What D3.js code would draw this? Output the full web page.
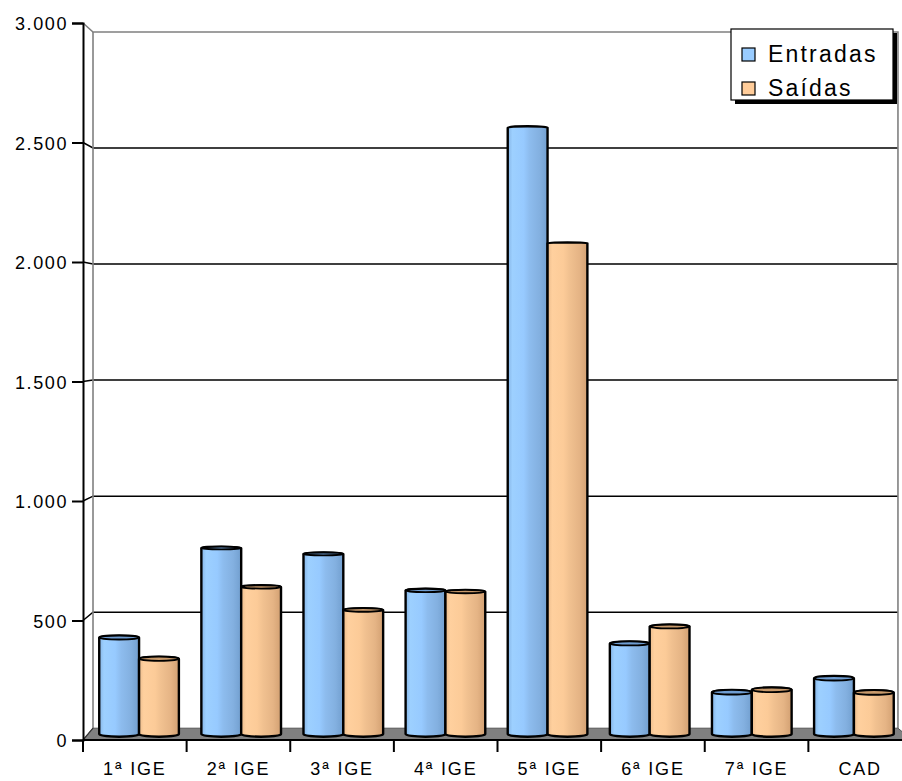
<!DOCTYPE html>
<html>
<head>
<meta charset="utf-8">
<script src="https://cdn.jsdelivr.net/npm/d3@7/dist/d3.min.js"></script>
<style>
  html, body { margin: 0; padding: 0; background: #fff; }
  svg { display: block; font-family: Arial, "Liberation Sans", sans-serif; }
</style>
</head>
<body>
<div id="chart"></div>
<script>
// ---- data ----
const categories = ["1ª IGE", "2ª IGE", "3ª IGE", "4ª IGE", "5ª IGE", "6ª IGE", "7ª IGE", "CAD"];
const seriesNames = ["Entradas", "Saídas"];
const entradas = [410, 790, 765, 610, 2575, 385, 178, 237];
const saidas   = [320, 625, 527, 605, 2085, 457, 188, 177];
const yTicks = [0, 500, 1000, 1500, 2000, 2500, 3000];

const W = 902, H = 781;
const svg = d3.select("#chart").append("svg").attr("width", W).attr("height", H);

// front-plane scales
const x = d3.scaleBand().domain(categories).range([83, 912]);
const xs = d3.scaleBand().domain(seriesNames).range([0, x.bandwidth()]).paddingOuter(0.282);
const y = d3.scaleLinear().domain([0, 3000]).range([740, 23]);

// simple perspective: points recede toward a vanishing point as depth t goes 0 -> 1
const vp = { x: 428, y: 333 }, shrink = 0.029;
function P(px, py, t) {
  const s = 1 - shrink * t;
  return [vp.x + s * (px - vp.x), vp.y + s * (py - vp.y)];
}
const x0 = x.range()[0], x1 = x.range()[1];
const yBase = y(0), yTop = y(3000);

const fmt = d3.formatLocale({ decimal: ",", thousands: ".", grouping: [3], currency: ["", ""] }).format(",d");

// ---- gradients for cylinder shading ----
const defs = svg.append("defs");
const shades = {
  "Entradas": { id: "gBlue", cap: "#6f9dd2", key: "#99ccff",
    stops: [[0, "#86b5e6"], [0.12, "#9dd0ff"], [0.4, "#97caff"], [0.55, "#8dbcee"], [0.8, "#83b0e0"], [1, "#729fcf"]] },
  "Saídas": { id: "gOrange", cap: "#c99a6b", key: "#ffcc99",
    stops: [[0, "#ecbd8d"], [0.12, "#ffd09e"], [0.4, "#fccb98"], [0.55, "#f1c190"], [0.8, "#e5b485"], [1, "#d2a072"]] }
};
Object.values(shades).forEach(s => {
  const g = defs.append("linearGradient").attr("id", s.id).attr("x1", 0).attr("x2", 1).attr("y1", 0).attr("y2", 0);
  s.stops.forEach(([o, c]) => g.append("stop").attr("offset", o).attr("stop-color", c));
});

// ---- back wall ----
const bw0 = P(x0, yTop, 1), bw1 = P(x1, yBase, 1);
svg.append("rect").attr("x", bw0[0]).attr("y", bw0[1])
  .attr("width", bw1[0] - bw0[0]).attr("height", bw1[1] - bw0[1]).attr("fill", "#fff");

// gridlines (side wall diagonal + back wall horizontal)
const grid = svg.append("g");
yTicks.filter(v => v > 0 && v < 3000).forEach(v => {
  const a = [x0, y(v)], b = P(x0, y(v), 1), c = P(x1, y(v), 1);
  grid.append("polyline").attr("points", [a, b, c].map(p => p.join(",")).join(" "))
    .attr("fill", "none").attr("stroke", "#000").attr("stroke-width", 1.5);
});

// wall borders
const wallTopL = P(x0, yTop, 1), wallTopR = P(x1, yTop, 1), wallBotL = P(x0, yBase, 1), wallBotR = P(x1, yBase, 1);
svg.append("polyline")
  .attr("points", [[x0, yTop], wallTopL, wallTopR, wallBotR].map(p => p.join(",")).join(" "))
  .attr("fill", "none").attr("stroke", "#808080").attr("stroke-width", 1.6);
svg.append("line").attr("x1", wallTopL[0]).attr("y1", wallTopL[1]).attr("x2", wallBotL[0]).attr("y2", wallBotL[1])
  .attr("stroke", "#808080").attr("stroke-width", 1.6);

// floor
svg.append("polygon")
  .attr("points", [[x0, yBase], [x1, yBase], wallBotR, wallBotL].map(p => p.join(",")).join(" "))
  .attr("fill", "#808080").attr("stroke", "#555").attr("stroke-width", 1);
svg.append("line").attr("x1", x0).attr("y1", yBase).attr("x2", wallBotL[0]).attr("y2", wallBotL[1])
  .attr("stroke", "#333").attr("stroke-width", 1.2);

// ---- bars as cylinders ----
const t0 = 0.28, t1 = 0.72, tm = 0.5;
const rows = [];
categories.forEach((c, i) => {
  rows.push({ cat: c, s: "Entradas", v: entradas[i] });
  rows.push({ cat: c, s: "Saídas", v: saidas[i] });
});

const bars = svg.append("g");
rows.forEach(d => {
  const fx0 = x(d.cat) + xs(d.s), fx1 = fx0 + xs.bandwidth();
  const L = P(fx0, y(d.v), tm)[0], R = P(fx1, y(d.v), tm)[0];
  const rx = (R - L) / 2, cx = (L + R) / 2;
  const yt = P(fx0, y(d.v), tm)[1], yb = P(fx0, yBase, tm)[1];
  const ryt = Math.abs(P(fx0, y(d.v), t0)[1] - P(fx0, y(d.v), t1)[1]) / 2;
  const ryb = Math.abs(P(fx0, yBase, t0)[1] - P(fx0, yBase, t1)[1]) / 2;
  const sh = shades[d.s];
  const path = `M${L},${yt} L${L},${yb} A${rx},${ryb} 0 0 0 ${R},${yb} L${R},${yt} A${rx},${ryt} 0 0 0 ${L},${yt} Z`;
  bars.append("path").attr("d", path).attr("fill", `url(#${sh.id})`)
    .attr("stroke", "#000").attr("stroke-width", 2.4).attr("stroke-linejoin", "round");
  if (yt > vp.y) {
    bars.append("ellipse").attr("cx", cx).attr("cy", yt).attr("rx", rx).attr("ry", ryt)
      .attr("fill", sh.cap).attr("stroke", "#000").attr("stroke-width", 1.8);
  }
});

// ---- front axes ----
const yAxis = svg.append("g").attr("transform", `translate(${x0},0)`)
  .call(d3.axisLeft(y).tickValues(yTicks).tickSize(11).tickPadding(4).tickFormat(fmt));
yAxis.select(".domain").attr("stroke", "#000").attr("stroke-width", 2);
yAxis.selectAll(".tick line").attr("stroke", "#000").attr("stroke-width", 2);
yAxis.selectAll(".tick text").attr("font-size", 18).attr("letter-spacing", "1.6px")
  .attr("fill", "#000").attr("font-family", "Arial, 'Liberation Sans', sans-serif").attr("dy", "0.38em");
svg.append("line").attr("x1", x0).attr("y1", yBase).attr("x2", x1).attr("y2", yBase)
  .attr("stroke", "#000").attr("stroke-width", 2);

const xAxis = svg.append("g").attr("transform", `translate(0,${yBase})`)
  .call(d3.axisBottom(x).tickSize(0).tickPadding(0));
xAxis.select(".domain").remove();
xAxis.selectAll(".tick text").attr("y", 35).attr("dy", 0).attr("font-size", 18).attr("letter-spacing", "1.8px")
  .attr("fill", "#000").attr("font-family", "Arial, 'Liberation Sans', sans-serif");

// category boundary ticks
const bounds = categories.map(c => x(c)).concat([x1]);
svg.append("g").selectAll("line").data(bounds).join("line")
  .attr("x1", d => d).attr("x2", d => d).attr("y1", yBase).attr("y2", yBase + 12)
  .attr("stroke", "#000").attr("stroke-width", 2);

// ---- legend ----
const lg = svg.append("g").attr("transform", "translate(731,29)");
lg.append("rect").attr("x", 4).attr("y", 4).attr("width", 162).attr("height", 71).attr("fill", "#000");
lg.append("rect").attr("x", 0).attr("y", 0).attr("width", 162).attr("height", 71)
  .attr("fill", "#fff").attr("stroke", "#000").attr("stroke-width", 1.2);
seriesNames.forEach((s, i) => {
  const row = lg.append("g").attr("transform", `translate(0,${i * 34})`);
  row.append("rect").attr("x", 11).attr("y", 19).attr("width", 13).attr("height", 13)
    .attr("fill", shades[s].key).attr("stroke", "#000").attr("stroke-width", 1.2);
  row.append("text").attr("x", 37).attr("y", 33).attr("font-size", 23).attr("letter-spacing", "2.2px")
    .attr("fill", "#000").text(s);
});
</script>
</body>
</html>
